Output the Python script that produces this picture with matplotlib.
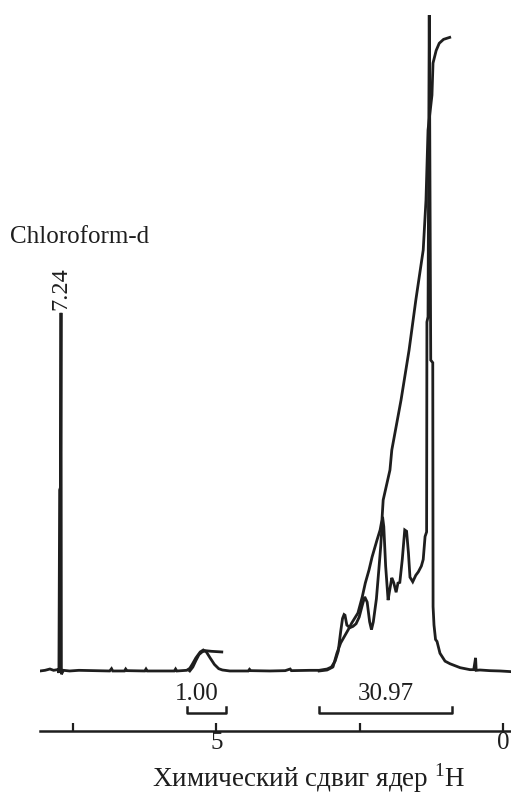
import matplotlib
matplotlib.use('Agg')
import matplotlib.pyplot as plt

plt.rcParams['font.family'] = ['Liberation Serif', 'DejaVu Serif']
INK = '#1e1e1e'

# 1H spectrum trace, chemical shift (ppm) vs intensity (main peak = 100)
spec_ppm = [7.58, 7.50, 7.42, 7.36, 7.30, 7.28,
            7.274, 7.262, 7.248, 7.240, 7.234, 7.20, 7.10, 6.95,
            6.45, 6.42, 6.40, 6.21, 6.19, 6.17, 5.88, 5.86, 5.84,
            5.40, 5.38, 5.36, 5.20,
            5.15, 5.11, 5.05, 4.98, 4.93, 4.88, 4.82, 4.75, 4.68, 4.62, 4.50,
            4.20, 4.18, 4.16, 3.85, 3.60, 3.52, 3.50, 3.20, 3.05, 2.92,
            2.85, 2.79, 2.74, 2.70, 2.67, 2.645, 2.63, 2.60, 2.55, 2.50,
            2.45, 2.40, 2.35, 2.31, 2.27, 2.23, 2.20, 2.17, 2.12, 2.08,
            2.05, 2.02, 2.00, 1.97, 1.93, 1.91, 1.87, 1.84, 1.80, 1.77,
            1.74, 1.70, 1.66, 1.63, 1.60, 1.575, 1.53, 1.48, 1.44, 1.39,
            1.36, 1.33, 1.305, 1.300, 1.282, 1.262, 1.238, 1.205, 1.200,
            1.185, 1.16, 1.136, 1.088, 1.006, 0.925, 0.76, 0.60, 0.54,
            0.51, 0.50, 0.44, 0.28, 0.11, -0.065]
spec_int = [0.0, 0.1, 0.3, 0.1, 0.2, 0.0,
            -0.3, 27.6, 28.0, 54.6, -0.5, 0.1, 0.0, 0.1,
            0.0, 0.35, 0.0, 0.0, 0.3, 0.05, 0.0, 0.3, 0.0,
            0.0, 0.3, 0.0, 0.1,
            0.4, 1.0, 2.0, 2.9, 3.2, 2.9, 2.0, 1.0, 0.35, 0.15, 0.0,
            0.0, 0.25, 0.05, 0.0, 0.05, 0.3, 0.05, 0.1, 0.1, 0.3,
            0.6, 1.5, 3.0, 6.0, 8.0, 8.6, 8.5, 7.0, 6.6, 6.8,
            7.2, 8.2, 10.0, 11.3, 10.5, 7.5, 6.3, 7.5, 11.0, 15.5,
            19.0, 23.5, 22.0, 16.0, 10.8, 12.0, 14.2, 13.5, 12.0, 13.4,
            13.5, 17.0, 21.5, 21.3, 18.0, 14.3, 13.6, 14.6, 15.1, 16.0,
            17.0, 20.5, 21.2, 53.2, 54.0, 100.0, 47.4, 47.0, 9.8,
            7.0, 4.8, 4.5, 2.7, 1.5, 1.1, 0.5, 0.2, 0.2,
            2.0, 0.1, 0.15, 0.05, 0.0, -0.1]

# integral curves
olef_ppm = [5.15, 5.10, 5.05, 5.00, 4.95, 4.90, 4.80, 4.63]
olef_int = [0.0, 0.6, 1.6, 2.5, 2.9, 3.1, 3.0, 2.9]
alk_ppm = [3.05, 2.92, 2.825, 2.76, 2.70, 2.58, 2.52, 2.42, 2.35, 2.30,
           2.24, 2.19, 2.11, 2.06, 2.03, 2.01, 1.90, 1.87, 1.72, 1.59,
           1.48, 1.36, 1.315, 1.282, 1.218, 1.201, 1.15, 1.10, 1.03, 0.93]
alk_int = [0.0, 0.15, 0.61, 2.74, 4.27, 6.25, 7.32, 8.84, 11.28, 13.41,
           15.40, 17.38, 19.97, 21.49, 23.02, 26.07, 30.64, 33.69, 41.31, 48.9,
           56.55, 64.18, 71.80, 82.47, 87.80, 92.68, 94.6, 95.7, 96.3, 96.6]

# integration ranges and their values
int_ranges = [(5.194, 4.561), (3.052, 0.893)]
int_labels = ['1.00', '30.97']
int_label_pos = [5.04, 1.964]

solvent_shift = 7.24
scale_ticks = [7.5, 5, 2.5, 0]
scale_labels = ['', '5', '', '0']

fig = plt.figure(figsize=(5.11, 7.94), dpi=100)

ax = fig.add_axes([40 / 511, 104 / 794, 471 / 511, 690 / 794])
ax.plot(spec_ppm, spec_int, color=INK, lw=2.0, solid_joinstyle='miter')
ax.plot(olef_ppm, olef_int, color=INK, lw=2.0)
ax.plot(alk_ppm, alk_int, color=INK, lw=2.0)
ax.set_xlim(7.581, -0.065)
ax.set_ylim(-2.9, 102.3)
ax.axis('off')

# integral brackets with values
for (a, b), lab, xl in zip(int_ranges, int_labels, int_label_pos):
    ax.plot([a, a, b, b], [-5.5, -6.4, -6.4, -5.5], color=INK, lw=1.8,
            clip_on=False)
    ax.text(xl, -4.4, lab, ha='center', va='baseline', fontsize=18,
            color=INK, clip_on=False)

ax.text(solvent_shift, 55.0, '7.24', rotation=90, ha='center', va='bottom',
        fontsize=17.5, color=INK)
fig.text(10 / 511, 1 - 243 / 794, 'Chloroform-d', ha='left', va='baseline',
         fontsize=18, color=INK)

# ppm scale
sc = fig.add_axes([40 / 511, 63 / 794, 471 / 511, 0.001])
sc.set_xlim(8.080, -0.140)
sc.set_ylim(0, 1)
for s in ['top', 'left', 'right']:
    sc.spines[s].set_visible(False)
sc.spines['bottom'].set_linewidth(1.8)
sc.spines['bottom'].set_color(INK)
sc.set_yticks([])
sc.set_xticks(scale_ticks, labels=scale_labels)
sc.tick_params(axis='x', direction='in', length=6, width=1.6, color=INK,
               labelsize=18, labelcolor=INK, pad=1)
sc.patch.set_visible(False)

fig.text(309 / 511, 1 - 787 / 794, 'Химический сдвиг ядер $^{\\mathregular{1}}$H',
         ha='center', va='baseline', fontsize=19.5, color=INK)

fig.savefig('out.png', dpi=100)
